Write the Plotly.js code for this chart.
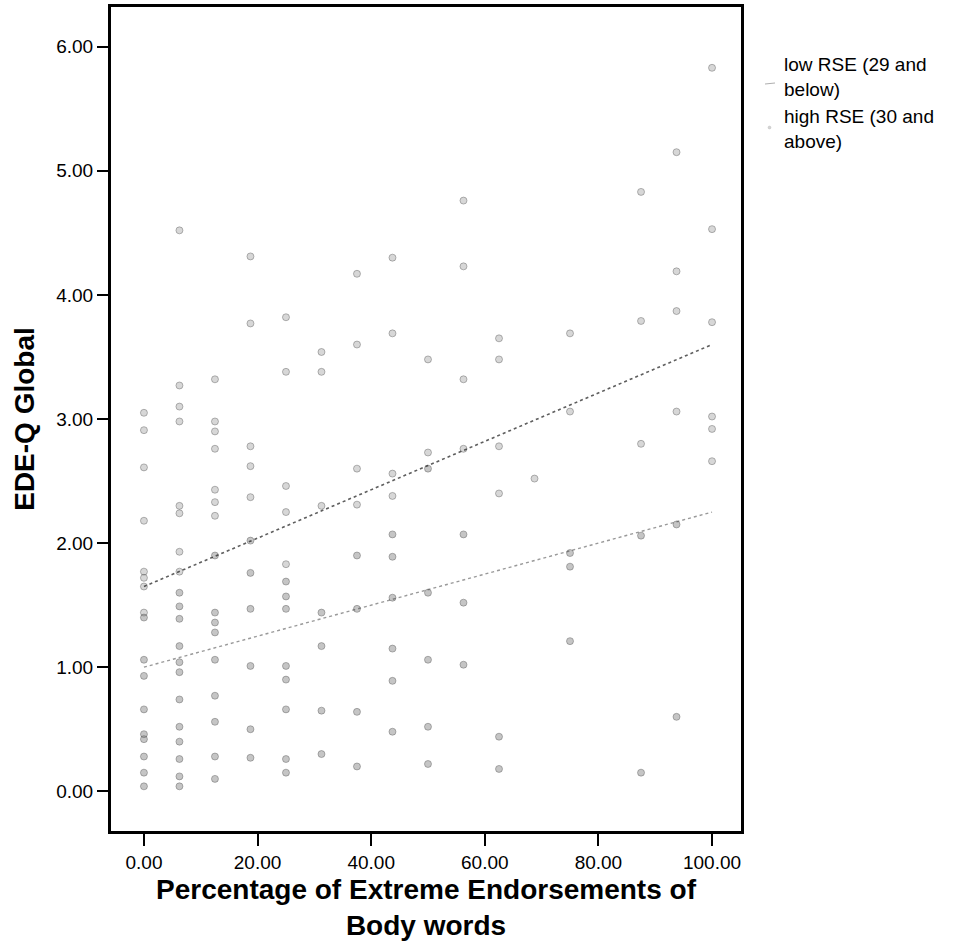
<!DOCTYPE html>
<html>
<head>
<meta charset="utf-8">
<script src="https://cdn.plot.ly/plotly-3.0.1.min.js"></script>
<style>html,body{margin:0;padding:0;background:#fff;}#chart{width:955px;height:946px;}</style>
</head>
<body>
<div id="chart"></div>
<script>
// x values: percentage of extreme endorsements (16 body words => steps of 6.25)
var lowX = [
  0,0,0,0,0,0,0,0,
  6.25,6.25,6.25,6.25,6.25,6.25,6.25,6.25,
  12.5,12.5,12.5,12.5,12.5,12.5,12.5,
  18.75,18.75,18.75,18.75,18.75,
  25,25,25,25,25,
  31.25,31.25,31.25,
  37.5,37.5,37.5,37.5,
  43.75,43.75,43.75,43.75,
  50,50,
  56.25,56.25,56.25,56.25,
  62.5,62.5,62.5,62.5,
  68.75,
  75,75,
  87.5,87.5,87.5,
  93.75,93.75,93.75,93.75,
  100,100,100,100,100,100
];
var lowY = [
  3.05,2.91,2.61,2.18,1.77,1.72,1.65,1.44,
  4.52,3.27,3.10,2.98,2.30,2.24,1.93,1.77,
  3.32,2.98,2.90,2.76,2.43,2.33,2.22,
  4.31,3.77,2.78,2.62,2.37,
  3.82,3.38,2.46,2.25,1.83,
  3.54,3.38,2.30,
  4.17,3.60,2.60,2.31,
  4.30,3.69,2.56,2.38,
  3.48,2.73,
  4.76,4.23,3.32,2.76,
  3.65,3.48,2.78,2.40,
  2.52,
  3.69,3.06,
  4.83,3.79,2.80,
  5.15,4.19,3.87,3.06,
  5.83,4.53,3.78,3.02,2.92,2.66
];
var highX = [
  0,0,0,0,0,0,0,0,0,
  6.25,6.25,6.25,6.25,6.25,6.25,6.25,6.25,6.25,6.25,6.25,6.25,
  12.5,12.5,12.5,12.5,12.5,12.5,12.5,12.5,12.5,
  18.75,18.75,18.75,18.75,18.75,18.75,
  25,25,25,25,25,25,25,25,
  31.25,31.25,31.25,31.25,
  37.5,37.5,37.5,37.5,
  43.75,43.75,43.75,43.75,43.75,43.75,
  50,50,50,50,50,
  56.25,56.25,56.25,
  62.5,62.5,
  75,75,75,
  87.5,87.5,
  93.75,93.75
];
var highY = [
  1.40,1.06,0.93,0.66,0.46,0.42,0.28,0.15,0.04,
  1.60,1.49,1.39,1.17,1.04,0.96,0.74,0.52,0.40,0.26,0.12,0.04,
  1.90,1.44,1.36,1.28,1.06,0.77,0.56,0.28,0.10,
  2.02,1.76,1.47,1.01,0.50,0.27,
  1.69,1.57,1.47,1.01,0.90,0.66,0.26,0.15,
  1.44,1.17,0.65,0.30,
  1.90,1.47,0.64,0.20,
  2.07,1.89,1.56,1.15,0.89,0.48,
  2.60,1.60,1.06,0.52,0.22,
  2.07,1.52,1.02,
  0.44,0.18,
  1.92,1.81,1.21,
  2.06,0.15,
  2.15,0.60
];
// fitted lines: endpoints at x = 0 and x = 100
var fitX = [0, 100];
var lowFitY = [1.65, 3.60];
var highFitY = [1.00, 2.25];

var xTicks = [0, 20, 40, 60, 80, 100];
var yTicks = [0, 1, 2, 3, 4, 5, 6];

var FONT = "'Liberation Sans', Arial, sans-serif";

var pointMarker = function(c){ return {size: 7, color: c, line: {width: 1, color: 'rgba(60,60,60,0.35)'}}; };

var traces = [
  {x: lowX, y: lowY, type: 'scatter', mode: 'markers', name: 'low RSE (29 and below)',
   marker: pointMarker('rgba(140,140,140,0.35)'), showlegend: false},
  {x: highX, y: highY, type: 'scatter', mode: 'markers', name: 'high RSE (30 and above)',
   marker: pointMarker('rgba(110,110,110,0.4)'), showlegend: false},
  {x: fitX, y: lowFitY, type: 'scatter', mode: 'lines', showlegend: false,
   line: {color: 'rgba(40,40,40,0.75)', width: 1.6, dash: 'dot'}},
  {x: fitX, y: highFitY, type: 'scatter', mode: 'lines', showlegend: false,
   line: {color: 'rgba(70,70,70,0.55)', width: 1.4, dash: 'dot'}}
];

var L = 111, R = 214, T = 7, B = 115;
var W = 955, H = 946;
var pw = W - L - R, ph = H - T - B;
function px2x(p){ return (p - L) / pw; }
function py2y(p){ return 1 - (p - T) / ph; }

var layout = {
  width: W, height: H,
  margin: {l: L, r: R, t: T, b: B, pad: 0},
  paper_bgcolor: '#fff', plot_bgcolor: '#fff',
  font: {family: FONT, color: '#000', size: 19},
  showlegend: false,
  xaxis: {
    range: [-5.8, 105.1], tickvals: xTicks, tickformat: '.2f',
    showline: true, mirror: true, linecolor: '#000', linewidth: 3,
    ticks: 'outside', ticklen: 12, tickwidth: 2, tickcolor: '#000',
    showgrid: false, zeroline: false,
    tickfont: {family: FONT, size: 19, color: '#000'},
    title: {text: '<b>Percentage of Extreme Endorsements of<br>Body words</b>',
            font: {family: FONT, size: 28, color: '#000'}, standoff: 8}
  },
  yaxis: {
    range: [-0.32, 6.32], tickvals: yTicks, tickformat: '.2f',
    showline: true, mirror: true, linecolor: '#000', linewidth: 3,
    ticks: 'outside', ticklen: 11, tickwidth: 2, tickcolor: '#000',
    showgrid: false, zeroline: false,
    tickfont: {family: FONT, size: 19, color: '#000'},
    title: {text: '<b>EDE-Q Global</b>', font: {family: FONT, size: 28, color: '#000'}, standoff: 14}
  },
  annotations: [
    {xref: 'paper', yref: 'paper', x: px2x(782), y: py2y(52), xanchor: 'left', yanchor: 'top',
     text: 'low RSE (29 and<br>below)', showarrow: false, align: 'left',
     font: {family: FONT, size: 19, color: '#000'}},
    {xref: 'paper', yref: 'paper', x: px2x(782), y: py2y(104), xanchor: 'left', yanchor: 'top',
     text: 'high RSE (30 and<br>above)', showarrow: false, align: 'left',
     font: {family: FONT, size: 19, color: '#000'}}
  ],
  shapes: [
    {type: 'line', xref: 'paper', yref: 'paper', x0: px2x(765), x1: px2x(775), y0: py2y(84), y1: py2y(83),
     line: {color: 'rgba(120,120,120,0.6)', width: 1}},
    {type: 'circle', xref: 'paper', yref: 'paper', x0: px2x(768), x1: px2x(771), y0: py2y(126), y1: py2y(129),
     line: {color: 'rgba(150,150,150,0.5)', width: 0.5}, fillcolor: 'rgba(150,150,150,0.4)'}
  ]
};

Plotly.newPlot('chart', traces, layout, {displayModeBar: false, staticPlot: true});
</script>
</body>
</html>
